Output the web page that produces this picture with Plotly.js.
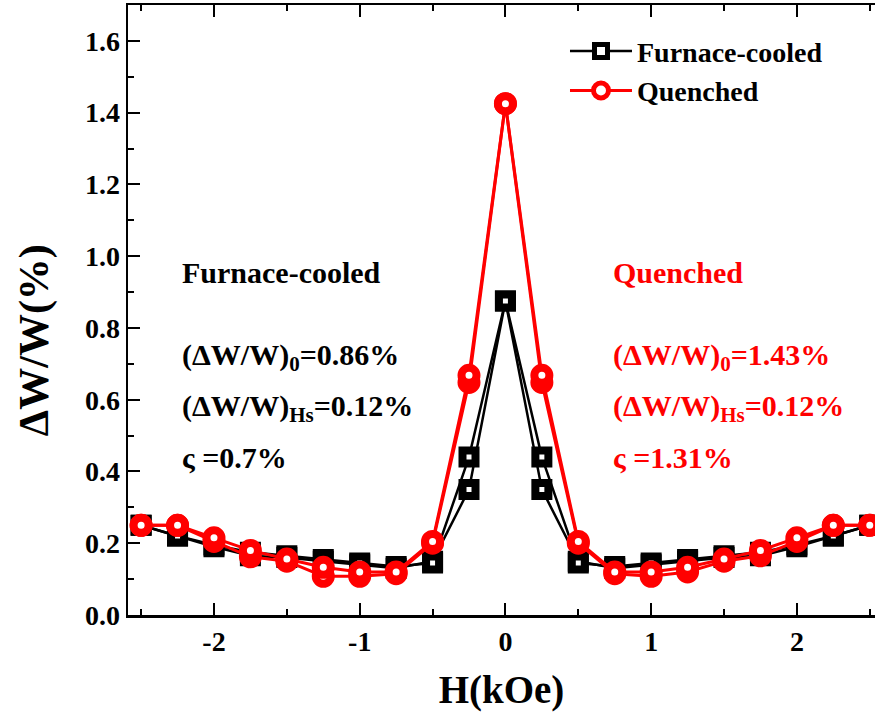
<!DOCTYPE html>
<html>
<head>
<meta charset="utf-8">
<script src="https://cdn.plot.ly/plotly-3.0.1.min.js"></script>
<style>html,body{margin:0;padding:0;background:#fff;}#chart{width:875px;height:718px;}</style>
</head>
<body>
<div id="chart"></div>
<script>
// Magnetic field H (kOe)
const H = [-2.5,-2.25,-2,-1.75,-1.5,-1.25,-1,-0.75,-0.5,-0.25,0,0.25,0.5,0.75,1,1.25,1.5,1.75,2,2.25,2.5];
// Furnace-cooled, two field sweeps
const fcSweepA = [0.25,0.22,0.195,0.175,0.165,0.155,0.145,0.135,0.145,0.44,0.875,0.44,0.145,0.135,0.145,0.155,0.165,0.175,0.195,0.22,0.25];
const fcSweepB = [0.25,0.22,0.19,0.165,0.16,0.15,0.14,0.13,0.15,0.35,0.875,0.35,0.15,0.13,0.14,0.15,0.16,0.165,0.19,0.22,0.25];
// Quenched, two field sweeps
const qSweepA = [0.25,0.25,0.215,0.18,0.156,0.133,0.12,0.12,0.205,0.668,1.425,0.668,0.205,0.12,0.12,0.133,0.156,0.18,0.215,0.25,0.25];
const qSweepB = [0.25,0.25,0.205,0.162,0.15,0.108,0.108,0.115,0.2,0.648,1.425,0.648,0.2,0.115,0.108,0.12,0.15,0.165,0.205,0.25,0.25];

const seriesNames = ["Furnace-cooled","Quenched"];
const xTicks = [-2,-1,0,1,2];
const yTicks = [0,0.2,0.4,0.6,0.8,1.0,1.2,1.4,1.6];

const FONT = "Liberation Serif";
const RED = "#ff0000";

function fcTrace(y, show){
  return {x:H, y:y, type:'scatter', mode:'lines+markers', name:seriesNames[0], showlegend:show,
    line:{color:'#000', width:2.5},
    marker:{symbol:'square', size:13, color:'#fff', line:{color:'#000', width:8}}};
}
function qTrace(y, show){
  return {x:H, y:y, type:'scatter', mode:'lines+markers', name:seriesNames[1], showlegend:show,
    line:{color:RED, width:3},
    marker:{symbol:'circle', size:15, color:'#fff', line:{color:RED, width:8}}};
}

const data = [fcTrace(fcSweepB,false), fcTrace(fcSweepA,true), qTrace(qSweepB,false), qTrace(qSweepA,true)];

function ann(x,y,text,color,size){
  return {xref:'x', yref:'y', x:x, y:y, text:'<b>'+text+'</b>', showarrow:false, xanchor:'left', yanchor:'middle',
    font:{family:FONT, size:size||30, color:color}};
}

const layout = {
  width:875, height:718,
  margin:{l:128, r:0, t:5, b:103},
  paper_bgcolor:'#fff', plot_bgcolor:'#fff',
  font:{family:FONT, color:'#000'},
  showlegend:true,
  legend:{x:0.585, y:0.965, xanchor:'left', yanchor:'top', bgcolor:'rgba(0,0,0,0)',
    font:{family:FONT, size:28, color:'#000', weight:'bold'}, tracegroupgap:0, itemwidth:62},
  xaxis:{range:[-2.59,2.536], tickvals:xTicks, ticktext:xTicks.map(String),
    ticks:'inside', ticklen:12, tickwidth:2, tickcolor:'#000',
    minor:{dtick:0.5, tick0:0, ticks:'inside', ticklen:6, tickwidth:2, tickcolor:'#000'},
    showline:true, linewidth:2.5, linecolor:'#000', mirror:'ticks', showgrid:false, zeroline:false,
    tickfont:{family:FONT, size:28, color:'#000', weight:'bold'},
    title:{text:'<b>H(kOe)</b>', font:{family:FONT, size:39}, standoff:20}},
  yaxis:{range:[0,1.70], tickvals:yTicks, ticktext:yTicks.map(v=>v.toFixed(1)),
    ticks:'inside', ticklen:12, tickwidth:2, tickcolor:'#000',
    minor:{dtick:0.1, tick0:0, ticks:'inside', ticklen:6, tickwidth:2, tickcolor:'#000'},
    showline:true, linewidth:2.5, linecolor:'#000', mirror:false, showgrid:false, zeroline:false,
    tickfont:{family:FONT, size:28, color:'#000', weight:'bold'},
    title:{text:''}},
  annotations:[
    {xref:'paper', yref:'paper', x:-0.125, y:0.45, text:'<b>ΔW/W(%)</b>', textangle:-90, showarrow:false,
      xanchor:'center', yanchor:'middle', font:{family:FONT, size:42, color:'#000'}},
    ann(-2.23,0.955,'Furnace-cooled','#000'),
    ann(-2.23,0.718,'(ΔW/W)<sub>0</sub>=0.86%','#000'),
    ann(-2.23,0.578,'(ΔW/W)<sub>Hs</sub>=0.12%','#000'),
    ann(-2.23,0.44,'ς =0.7%','#000'),
    ann(0.725,0.955,'Quenched',RED),
    ann(0.725,0.718,'(ΔW/W)<sub>0</sub>=1.43%',RED),
    ann(0.725,0.578,'(ΔW/W)<sub>Hs</sub>=0.12%',RED),
    ann(0.725,0.44,'ς =1.31%',RED)
  ]
};

Plotly.newPlot('chart', data, layout, {displayModeBar:false, staticPlot:true});
</script>
</body>
</html>
